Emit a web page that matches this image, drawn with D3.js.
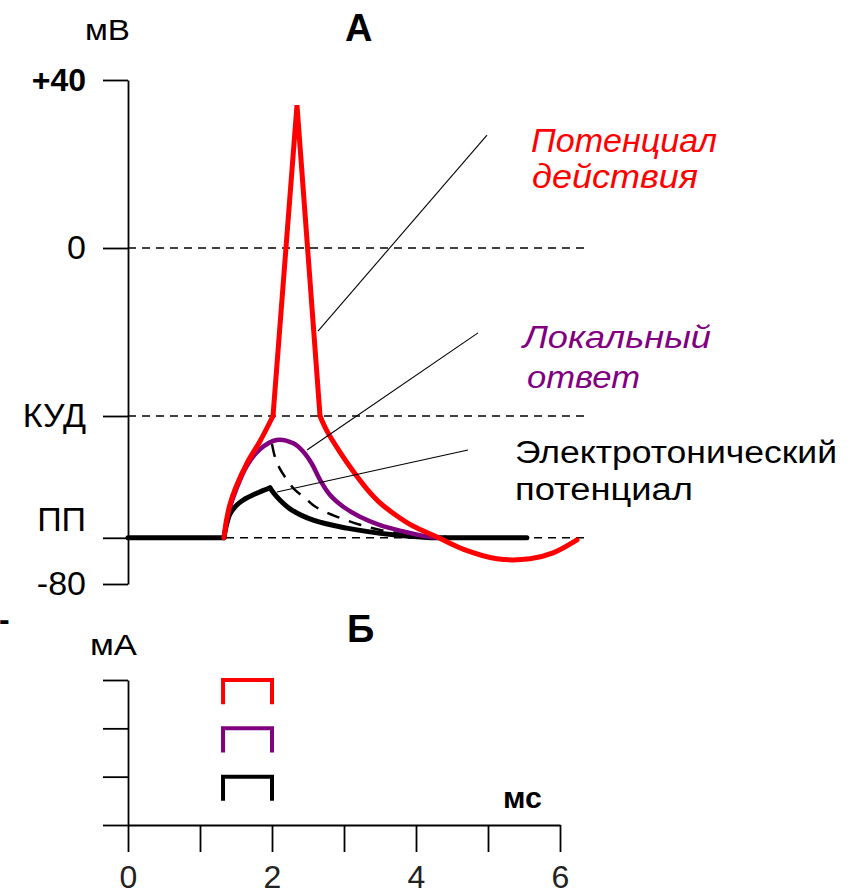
<!DOCTYPE html>
<html>
<head>
<meta charset="utf-8">
<script src="https://cdn.jsdelivr.net/npm/d3@7"></script>
<style>
  body { margin: 0; background: #fff; }
  svg { display: block; font-family: "Liberation Sans", Arial, sans-serif; }
  .axis path, .axis line { stroke: #000; stroke-width: 1.8; }
  .axis text { font-family: "Liberation Sans", Arial, sans-serif; font-size: 32px; fill: #000; }
  .lbl { font-family: "Liberation Sans", Arial, sans-serif; }
</style>
</head>
<body>
<div id="chart"></div>
<script>
// time axis (ms)
var timeTicks = [0, 1, 2, 3, 4, 5, 6];
var timeLabels = ['0', '', '2', '', '4', '', '6'];

// potential axis (mV)
var vTicks = [40, 0, -40, -69, -80];
var vLabels = ['+40', '0', 'КУД', 'ПП', '-80'];
var guideLevels = [0, -40, -69];

// current axis
var iTicks = [0, 1, 2, 3];
var stimOn = 1.32, stimOff = 2.0;
var stimAmp = [3, 2, 1];   // AP, local response, electrotonic

// electrotonic potential [ms, mV]
var blackBase = [[0, -69], [1.333, -69]];
var blackRise = [[1.333, -69], [1.361, -66.4], [1.417, -63.3], [1.5, -61.4], [1.601, -60.0], [1.787, -58.4], [1.972, -57.1]];
var blackFall = [[1.972, -57.1], [2.065, -59.2], [2.25, -62.1], [2.574, -64.8], [3.037, -66.7], [3.685, -68.3], [4.149, -68.9], [4.403, -69]];
var blackTail = [[4.403, -69], [5.54, -69]];

// passive decay of the local response (dashed)
var passiveDecay = [[2.0, -46.7], [2.042, -49.8], [2.111, -52.6], [2.208, -55.2], [2.319, -57.6], [2.458, -59.5],
  [2.569, -61.2], [2.708, -62.6], [2.903, -64.0], [3.222, -65.9], [3.639, -67.6], [4.194, -69]];

// local response
var localResp = [[1.333, -69], [1.368, -65.2], [1.417, -61.7], [1.5, -57.6], [1.649, -51.9], [1.833, -47.9], [2.065, -45.7],
  [2.296, -46.5], [2.435, -48.5], [2.551, -51.3], [2.667, -55.2], [2.806, -58.8], [2.99, -61.6], [3.222, -64.0],
  [3.5, -66.0], [3.824, -67.5], [4.149, -68.7], [4.333, -69]];

// action potential
var apRise = [[1.333, -69], [1.368, -64.8], [1.417, -61.0], [1.5, -56.9], [1.653, -51.2], [1.833, -46.0], [2.014, -40]];
var apSpike = [[2.014, -40], [2.347, 34], [2.667, -40]];
var apFall = [[2.667, -40], [2.764, -43.6], [2.944, -48.6], [3.125, -53.1], [3.319, -57.4], [3.5, -60.7], [3.736, -63.8],
  [3.958, -66.2], [4.292, -68.8], [4.653, -71.7], [5.125, -74.0], [5.583, -74.0], [5.903, -72.6], [6.236, -69.5]];

var width = 852, height = 896;
var RED = '#ff0000', PURPLE = '#800080';

var svg = d3.select('#chart')
  .append('svg')
  .attr('width', width)
  .attr('height', height);

var x = d3.scaleLinear().domain([0, 6]).range([128, 560]);
var yV = d3.scaleLinear().domain([-80, 40]).range([584, 80]);
var yI = d3.scaleLinear().domain([0, 3]).range([825, 680]);

// ---- panel A ----
svg.selectAll('.guide')
  .data(guideLevels)
  .enter()
  .append('line')
  .attr('class', 'guide')
  .attr('x1', x(0)).attr('x2', x(6.35))
  .attr('y1', function(d) { return yV(d); })
  .attr('y2', function(d) { return yV(d); })
  .attr('stroke', '#000')
  .attr('stroke-width', 1.6)
  .attr('stroke-dasharray', '8,6');

var yAxisA = svg.append('g')
  .attr('class', 'axis')
  .attr('transform', 'translate(' + x(0) + ',0)')
  .call(d3.axisLeft(yV).tickValues(vTicks)
    .tickFormat(function(d, i) { return vLabels[i]; })
    .tickSize(25).tickSizeOuter(0).tickPadding(17));

yAxisA.selectAll('text').style('font-size', '34px');
yAxisA.selectAll('text')
  .filter(function(d) { return d === 40; })
  .style('font-weight', 'bold')
  .style('font-size', '32px');
yAxisA.selectAll('text')
  .filter(function(d) { return d === -69; })
  .attr('dy', '-0.22em');

var lineSmooth = d3.line()
  .x(function(d) { return x(d[0]); })
  .y(function(d) { return yV(d[1]); })
  .curve(d3.curveCatmullRom.alpha(0.5));
var lineStraight = d3.line()
  .x(function(d) { return x(d[0]); })
  .y(function(d) { return yV(d[1]); });

var traces = [
  {data: blackBase, color: '#000', w: 5, gen: lineStraight},
  {data: blackTail, color: '#000', w: 5, gen: lineStraight},
  {data: blackRise, color: '#000', w: 5, gen: lineSmooth},
  {data: blackFall, color: '#000', w: 5, gen: lineSmooth},
  {data: passiveDecay, color: '#000', w: 2.5, gen: lineSmooth, dash: '13,10'},
  {data: localResp, color: PURPLE, w: 4.5, gen: lineSmooth},
  {data: apRise, color: RED, w: 5, gen: lineSmooth},
  {data: apSpike, color: RED, w: 5, gen: lineStraight, join: 'bevel'},
  {data: apFall, color: RED, w: 5, gen: lineSmooth}
];

svg.selectAll('.trace')
  .data(traces)
  .enter()
  .append('path')
  .attr('class', 'trace')
  .attr('d', function(d) { return d.gen(d.data); })
  .attr('fill', 'none')
  .attr('stroke', function(d) { return d.color; })
  .attr('stroke-width', function(d) { return d.w; })
  .attr('stroke-linejoin', function(d) { return d.join || 'round'; })
  .attr('stroke-linecap', function(d) { return d.dash ? 'butt' : 'round'; })
  .attr('stroke-dasharray', function(d) { return d.dash || null; });

// leader lines
var leaders = [
  [[2.639, -19.8], [4.986, 26.9]],
  [[2.486, -48.1], [4.861, -20.2]],
  [[2.069, -58.1], [4.722, -48.1]]
];
svg.selectAll('.leader')
  .data(leaders)
  .enter()
  .append('path')
  .attr('class', 'leader')
  .attr('d', lineStraight)
  .attr('stroke', '#000')
  .attr('stroke-width', 1.1)
  .attr('fill', 'none');

function label(txt, px, py, opts) {
  var t = svg.append('text')
    .attr('class', 'lbl')
    .attr('x', px).attr('y', py)
    .style('font-size', (opts.size || 30) + 'px')
    .style('fill', opts.color || '#000')
    .text(txt);
  if (opts.bold) t.style('font-weight', 'bold');
  if (opts.italic) t.style('font-style', 'italic');
  if (opts.len) t.attr('textLength', opts.len).attr('lengthAdjust', 'spacingAndGlyphs');
  return t;
}

label('мВ', 85, 40, {size: 30, len: 45});
label('А', 345, 41, {size: 38, bold: true});
label('Потенциал', 531, 152, {size: 33, italic: true, color: RED, len: 186});
label('действия', 532, 188, {size: 33, italic: true, color: RED, len: 166});
label('Локальный', 523, 348, {size: 32, italic: true, color: PURPLE, len: 188});
label('ответ', 527, 388, {size: 32, italic: true, color: PURPLE, len: 113});
label('Электротонический', 515, 463, {size: 31, len: 322});
label('потенциал', 515, 500, {size: 31, len: 178});

// ---- panel Б ----
svg.append('g')
  .attr('class', 'axis')
  .attr('transform', 'translate(' + x(0) + ',0)')
  .call(d3.axisLeft(yI).tickValues(iTicks).tickFormat('')
    .tickSize(25).tickSizeOuter(0));

svg.append('g')
  .attr('class', 'axis')
  .attr('transform', 'translate(0,' + yI(0) + ')')
  .call(d3.axisBottom(x).tickValues(timeTicks)
    .tickFormat(function(d, i) { return timeLabels[i]; })
    .tickSize(27).tickSizeOuter(0).tickPadding(13))
  .selectAll('text').style('fill', '#222');

var pulseColors = [RED, PURPLE, '#000'];
var pulse = d3.line()
  .x(function(d) { return x(d[0]); })
  .y(function(d) { return yI(d[1]); });

svg.selectAll('.pulse')
  .data(stimAmp)
  .enter()
  .append('path')
  .attr('class', 'pulse')
  .attr('d', function(a) {
    return pulse([[stimOn, a - 0.5], [stimOn, a], [stimOff, a], [stimOff, a - 0.5]]);
  })
  .attr('fill', 'none')
  .attr('stroke', function(d, i) { return pulseColors[i]; })
  .attr('stroke-width', 4);

label('мА', 90, 655, {size: 30, len: 47});
label('Б', 347, 642, {size: 38, bold: true});
label('мс', 503, 808, {size: 30, bold: true, len: 39});
label('-', -1, 630, {size: 32, bold: true});
</script>
</body>
</html>
